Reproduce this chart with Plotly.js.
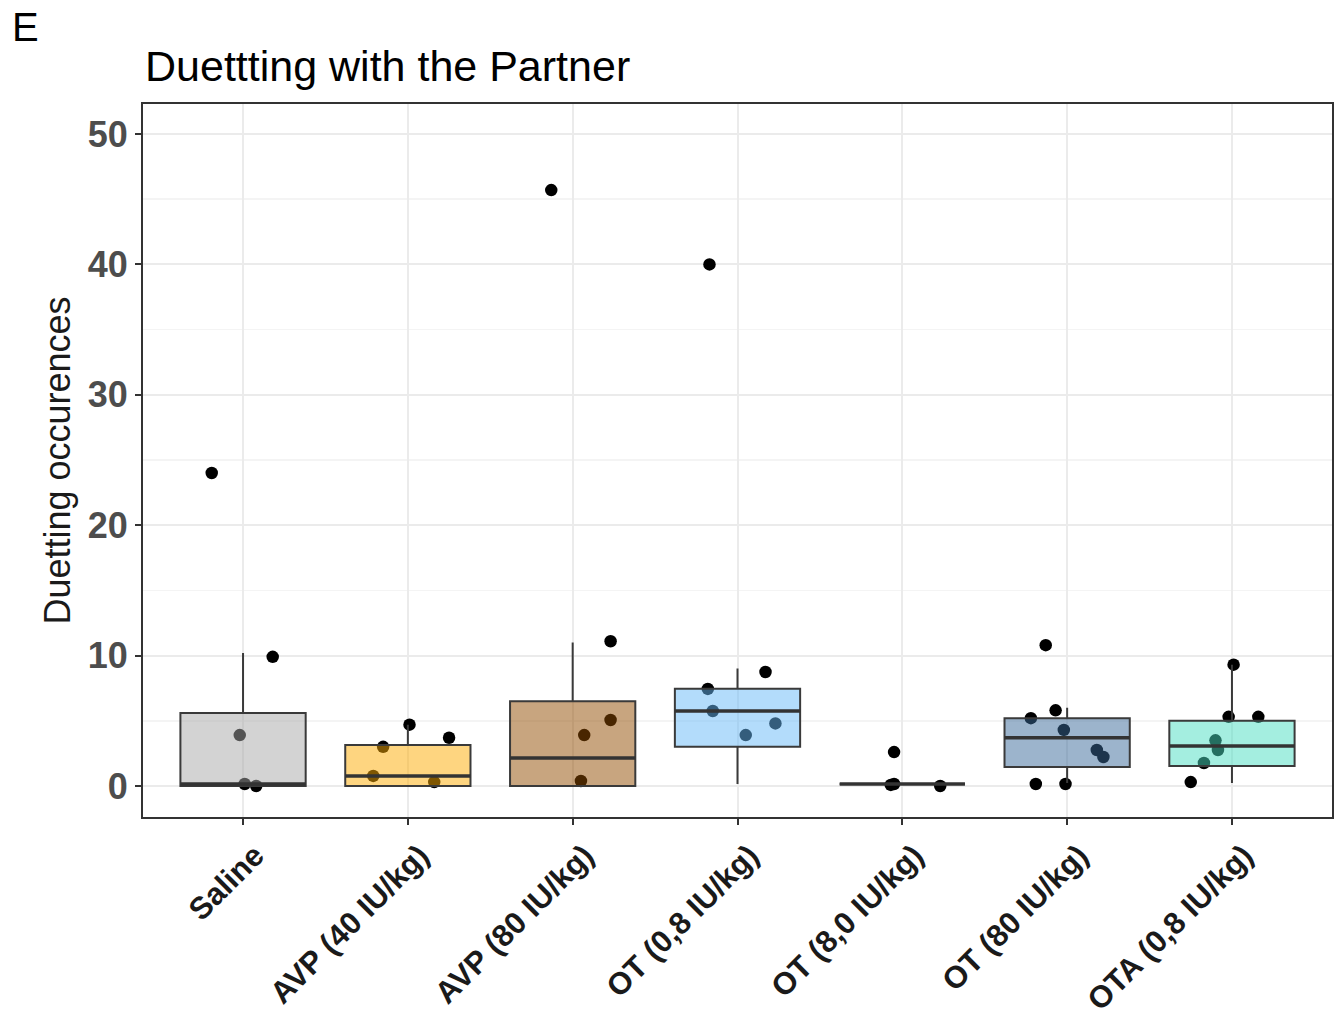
<!DOCTYPE html>
<html>
<head>
<meta charset="utf-8">
<script src="https://cdn.plot.ly/plotly-3.0.1.min.js"></script>
<style>html,body{margin:0;padding:0;background:#fff;}#chart{width:1341px;height:1017px;}</style>
</head>
<body>
<div id="chart"></div>
<script>
// ---- data ----
const categories = ["Saline", "AVP (40 IU/kg)", "AVP (80 IU/kg)", "OT (0,8 IU/kg)", "OT (8,0 IU/kg)", "OT (80 IU/kg)", "OTA (0,8 IU/kg)"];
const boxQ1     = [0.0, 0.0, 0.0, 3.0, 0.15, 1.45, 1.53];
const boxMedian = [0.15, 0.77, 2.15, 5.75, 0.15, 3.7, 3.07];
const boxQ3     = [5.6, 3.15, 6.5, 7.45, 0.15, 5.2, 5.0];
const boxLower  = [0.0, 0.0, 0.0, 0.15, 0.15, 0.23, 0.23];
const boxUpper  = [10.2, 4.7, 11.0, 9.0, 0.15, 6.0, 9.3];
const boxColors = ["rgb(167,167,167)", "rgb(253,171,1)", "rgb(145,75,0)", "rgb(103,185,247)", "rgb(60,60,60)", "rgb(57,105,153)", "rgb(73,221,193)"];

const pointGroup  = [0,0,0,0,0, 1,1,1,1,1, 2,2,2,2,2, 3,3,3,3,3,3, 4,4,4,4, 5,5,5,5,5,5,5,5, 6,6,6,6,6,6,6];
const pointValue  = [24.0,9.9,3.9,0.15,0.0, 3.0,4.7,3.7,0.77,0.3, 45.7,11.1,3.9,5.06,0.38, 40.0,8.74,7.44,5.75,3.9,4.8, 2.6,0.15,0.08,0.0, 10.8,5.8,5.2,4.3,2.76,2.22,0.15,0.15, 9.3,5.3,5.3,3.5,2.76,1.76,0.3];
const pointJitter = [-0.19,0.18,-0.02,0.01,0.08, -0.15,0.01,0.25,-0.21,0.16, -0.13,0.23,0.07,0.23,0.05, -0.17,0.17,-0.18,-0.15,0.05,0.23, -0.05,-0.05,-0.07,0.23, -0.13,-0.07,-0.22,-0.02,0.18,0.22,-0.19,-0.01, 0.01,-0.02,0.16,-0.1,-0.085,-0.17,-0.25];

const titleText = "Duettting with the Partner";
const yTitle = "Duetting occurences";
const panelLabel = "E";
const yTicks = [0, 10, 20, 30, 40, 50];

// ---- build traces ----
const FONT = "Liberation Sans, Arial, sans-serif";
const BOXW = 0.76;
const XR = [-0.607, 6.607], YR = [-2.38, 52.3];
const traces = [];
// points below (base subplot)
traces.push({
  type: "scatter", mode: "markers", xaxis: "x", yaxis: "y",
  x: pointGroup.map((g, i) => g + pointJitter[i]),
  y: pointValue,
  marker: {color: "#000000", size: 12.5},
  hoverinfo: "y", showlegend: false
});
// semi-transparent boxes on an overlaid subplot so they sit above the points
categories.forEach((c, i) => {
  traces.push({
    type: "box", x: [i], xaxis: "x2", yaxis: "y2",
    q1: [boxQ1[i]], median: [boxMedian[i]], q3: [boxQ3[i]],
    lowerfence: [boxLower[i]], upperfence: [boxUpper[i]],
    width: BOXW, whiskerwidth: 0, boxpoints: false,
    fillcolor: boxColors[i].replace("rgb", "rgba").replace(")", ",0.5)"),
    line: {color: "#3a3a3a", width: 2},
    name: c, showlegend: false
  });
});
// thicker median bars
const medX = [], medY = [];
categories.forEach((c, i) => {
  medX.push(i - BOXW/2, i + BOXW/2, null);
  medY.push(boxMedian[i], boxMedian[i], null);
});
traces.push({
  type: "scatter", mode: "lines", xaxis: "x2", yaxis: "y2",
  x: medX, y: medY, line: {color: "#333333", width: 3.5},
  hoverinfo: "skip", showlegend: false
});

const axisBase = {
  showline: true, mirror: true, linecolor: "#333333", linewidth: 2,
  ticks: "outside", ticklen: 6, tickwidth: 2, tickcolor: "#333333",
  zeroline: false
};

const layout = {
  width: 1341, height: 1017,
  margin: {l: 143, r: 9, t: 104, b: 200},
  paper_bgcolor: "#ffffff", plot_bgcolor: "#ffffff",
  boxmode: "overlay",
  font: {family: FONT, color: "#000000"},
  title: {
    text: titleText, font: {family: FONT, size: 43, color: "#000000"},
    xref: "container", x: 145/1341, xanchor: "left",
    yref: "container", y: 1 - 66/1017, yanchor: "middle"
  },
  xaxis: Object.assign({}, axisBase, {
    range: XR,
    tickvals: categories.map((c, i) => i), ticktext: categories,
    tickangle: -45, ticklabelshift: 12,
    tickfont: {family: FONT, size: 31, color: "#1a1a1a", weight: "bold"},
    showgrid: true, gridcolor: "#ebebeb", gridwidth: 2
  }),
  yaxis: Object.assign({}, axisBase, {
    range: YR,
    tickvals: yTicks,
    tickfont: {family: FONT, size: 36, color: "#4d4d4d", weight: "bold"},
    title: {text: yTitle, font: {family: FONT, size: 36, color: "#1a1a1a"}, standoff: 6},
    showgrid: true, gridcolor: "#ebebeb", gridwidth: 2,
    minor: {dtick: 5, tick0: 0, showgrid: true, gridcolor: "#f4f4f4", gridwidth: 1.5}
  }),
  xaxis2: {overlaying: "x", range: XR, visible: false, showgrid: false, zeroline: false},
  yaxis2: {overlaying: "y", range: YR, visible: false, showgrid: false, zeroline: false},
  annotations: [{
    text: panelLabel, xref: "paper", yref: "paper",
    x: (10 - 143)/1189, y: (817 - 27)/713, xanchor: "left", yanchor: "middle",
    showarrow: false, font: {family: FONT, size: 40, color: "#000000"}
  }]
};

Plotly.newPlot("chart", traces, layout, {displayModeBar: false, staticPlot: true});
</script>
</body>
</html>
